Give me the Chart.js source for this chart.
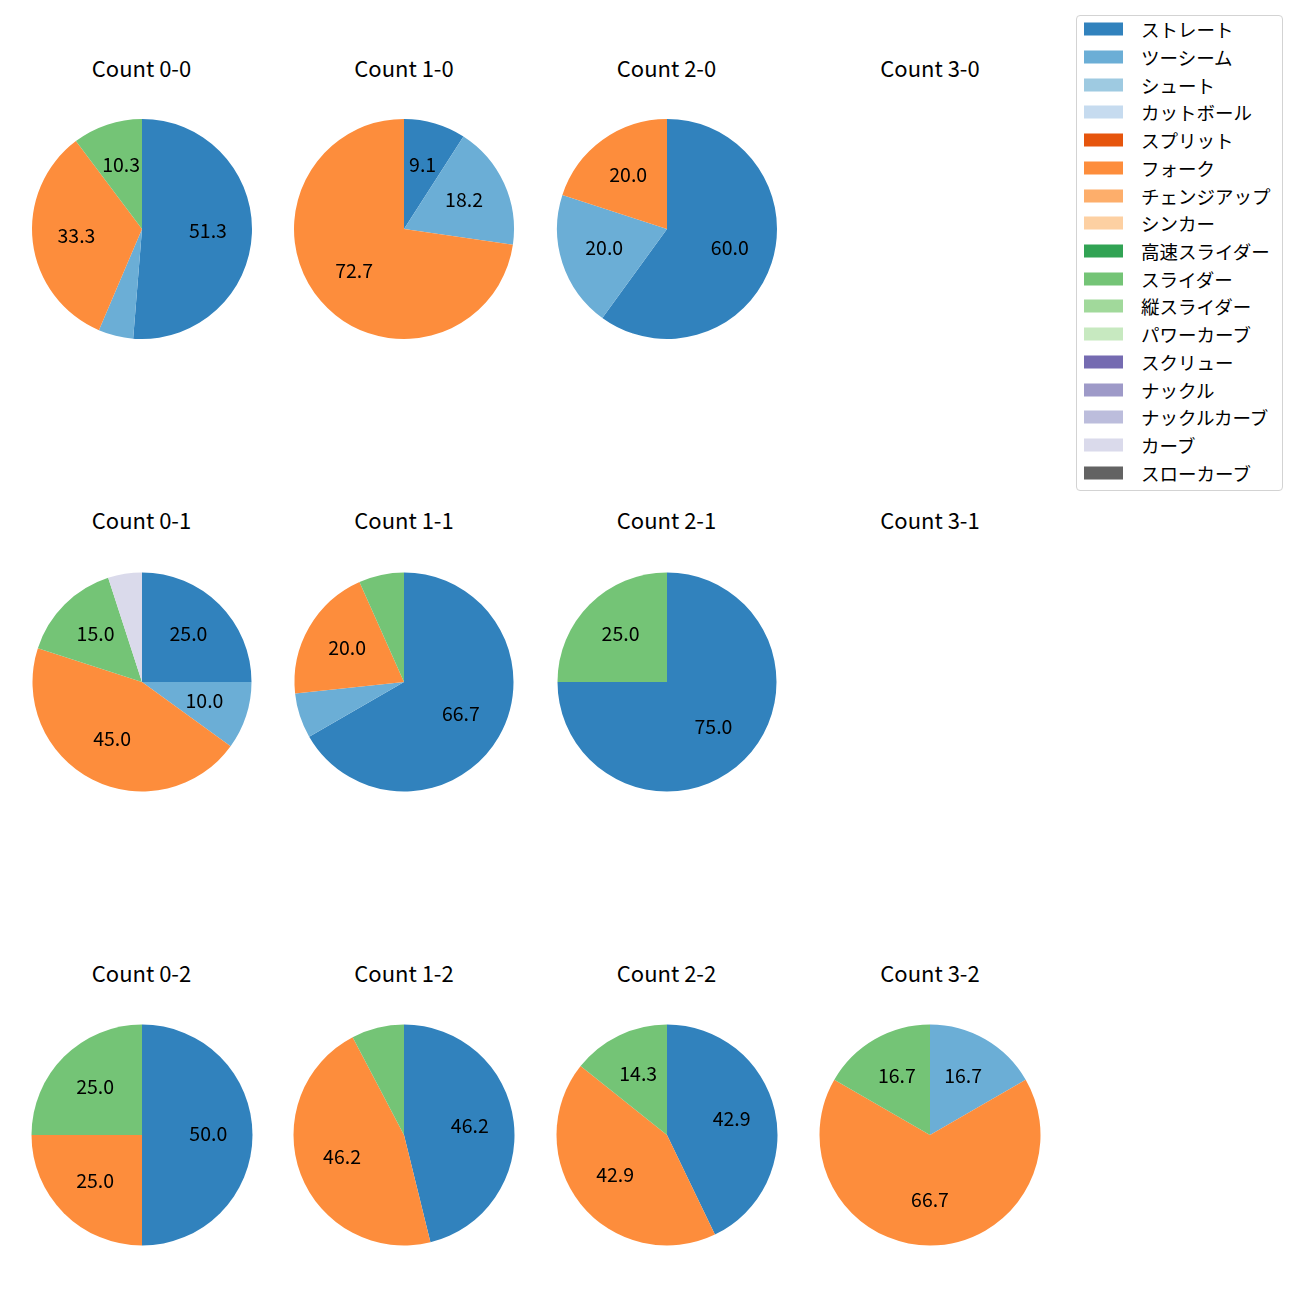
<!DOCTYPE html>
<html><head><meta charset="utf-8">
<script src="https://cdn.jsdelivr.net/npm/chart.js@4.4.0/dist/chart.umd.min.js"></script>
<style>
body{margin:0;background:#fff;width:1300px;height:1300px;position:relative;overflow:hidden;font-family:"Noto Sans CJK JP",sans-serif;}
.t{position:absolute;font-size:22px;color:#000;transform:translate(-50%,-50%);white-space:nowrap;line-height:1;}
canvas.p{position:absolute;}
#legend{position:absolute;left:1076px;top:15px;width:205px;height:474px;border:1px solid #d3d3d3;border-radius:4px;background:#fff;}
.sw{position:absolute;left:7px;width:39px;height:13px;transform:translateY(-50%);}
.lt{position:absolute;left:64px;font-size:18.5px;line-height:1;white-space:nowrap;transform:translateY(-50%);color:#000;}
</style>
</head><body>
<div id="legend"></div>
<script>
const pitchTypes = ['ストレート','ツーシーム','シュート','カットボール','スプリット','フォーク','チェンジアップ','シンカー','高速スライダー','スライダー','縦スライダー','パワーカーブ','スクリュー','ナックル','ナックルカーブ','カーブ','スローカーブ'];
const pitchColors = ['#3182bd','#6baed6','#9ecae1','#c6dbef','#e6550d','#fd8d3c','#fdae6b','#fdd0a2','#31a354','#74c476','#a1d99b','#c7e9c0','#756bb1','#9e9ac8','#bcbddc','#dadaeb','#636363'];

const count_0_0 = [20,2,0,0,0,13,0,0,0,4,0,0,0,0,0,0,0];
const count_1_0 = [1,2,0,0,0,8,0,0,0,0,0,0,0,0,0,0,0];
const count_2_0 = [3,1,0,0,0,1,0,0,0,0,0,0,0,0,0,0,0];
const count_3_0 = [0,0,0,0,0,0,0,0,0,0,0,0,0,0,0,0,0];
const count_0_1 = [5,2,0,0,0,9,0,0,0,3,0,0,0,0,0,1,0];
const count_1_1 = [10,1,0,0,0,3,0,0,0,1,0,0,0,0,0,0,0];
const count_2_1 = [3,0,0,0,0,0,0,0,0,1,0,0,0,0,0,0,0];
const count_3_1 = [0,0,0,0,0,0,0,0,0,0,0,0,0,0,0,0,0];
const count_0_2 = [2,0,0,0,0,1,0,0,0,1,0,0,0,0,0,0,0];
const count_1_2 = [6,0,0,0,0,6,0,0,0,1,0,0,0,0,0,0,0];
const count_2_2 = [3,0,0,0,0,3,0,0,0,1,0,0,0,0,0,0,0];
const count_3_2 = [0,1,0,0,0,4,0,0,0,1,0,0,0,0,0,0,0];

const countTitles = ['Count 0-0','Count 1-0','Count 2-0','Count 3-0','Count 0-1','Count 1-1','Count 2-1','Count 3-1','Count 0-2','Count 1-2','Count 2-2','Count 3-2'];
const countData = [count_0_0,count_1_0,count_2_0,count_3_0,count_0_1,count_1_1,count_2_1,count_3_1,count_0_2,count_1_2,count_2_2,count_3_2];

// layout
const colX = [141.5, 404, 666.5, 930];
const rowY = [229, 681.5, 1134.5];
const rowR = [110, 109.5, 110.5];
const titleOffset = 162.5;
const S = 240;

const pctLabels = {
  id:'pctLabels',
  afterDatasetsDraw(chart){
    const ctx = chart.ctx;
    const meta = chart.getDatasetMeta(0);
    const data = chart.data.datasets[0].data;
    const total = data.reduce((a,b)=>a+b,0);
    meta.data.forEach((arc,i)=>{
      const v = data[i];
      if(!v) return;
      const pct = v/total*100;
      if(pct < 8) return;
      const p = arc.getProps(['x','y','startAngle','endAngle','outerRadius'], true);
      const a = (p.startAngle + p.endAngle)/2;
      const r = p.outerRadius*0.6;
      ctx.save();
      ctx.font = '19.5px "Noto Sans CJK JP"';
      ctx.fillStyle = '#000';
      ctx.textAlign = 'center';
      ctx.textBaseline = 'middle';
      ctx.fillText(pct.toFixed(1), p.x + Math.cos(a)*r, p.y + Math.sin(a)*r - 1.5);
      ctx.restore();
    });
  }
};

countData.forEach((vals, k)=>{
  const col = k % 4, row = Math.floor(k/4);
  const cx = colX[col], cy = rowY[row], r = rowR[row];
  const t = document.createElement('div');
  t.className = 't';
  t.textContent = countTitles[k];
  t.style.left = cx + 'px';
  t.style.top = (cy - titleOffset) + 'px';
  document.body.appendChild(t);
  const total = vals.reduce((a,b)=>a+b,0);
  if(total === 0) return;
  const c = document.createElement('canvas');
  c.className = 'p';
  c.width = S; c.height = S;
  c.style.left = (cx - S/2) + 'px';
  c.style.top = (cy - S/2) + 'px';
  document.body.appendChild(c);
  new Chart(c, {
    type:'pie',
    data:{labels:pitchTypes, datasets:[{data:vals, backgroundColor:pitchColors, borderWidth:0, hoverOffset:0}]},
    options:{
      responsive:false, animation:false, events:[],
      layout:{padding: S/2 - r},
      plugins:{legend:{display:false}, tooltip:{enabled:false}, title:{display:false}}
    },
    plugins:[pctLabels]
  });
});

// legend
const lg = document.getElementById('legend');
pitchTypes.forEach((name,i)=>{
  const yc = 13.3 + i*27.71;
  const sw = document.createElement('div');
  sw.className = 'sw';
  sw.style.top = yc + 'px';
  sw.style.background = pitchColors[i];
  lg.appendChild(sw);
  const tx = document.createElement('div');
  tx.className = 'lt';
  tx.style.top = yc + 'px';
  tx.textContent = name;
  lg.appendChild(tx);
});
</script>
</body></html>
